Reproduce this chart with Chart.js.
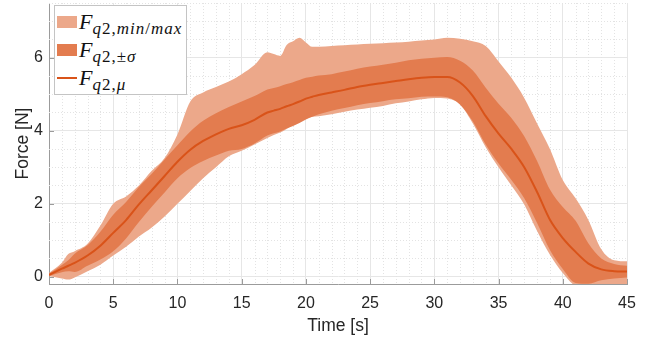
<!DOCTYPE html>
<html>
<head>
<meta charset="utf-8">
<script src="https://cdn.jsdelivr.net/npm/chart.js@4/dist/chart.umd.min.js"></script>
<style>
  body { margin: 0; background: #fff; }
  #wrap { position: relative; width: 662px; height: 343px; }
  #legend {
    position: absolute; left: 54px; top: 5px; width: 131px; height: 88px;
    border: 1px solid #c4c4c4; background: #fff;
    font-family: "Liberation Serif", "Times New Roman", serif;
  }
  #legend .item { position: absolute; left: 2px; height: 26px; display: flex; align-items: center; }
  #legend .sw { width: 20px; margin-right: 2px; }
  #legend .txt { font-size: 22px; color: #111; line-height: 1; white-space: nowrap; }
  #legend sub { font-size: 17px; letter-spacing: 1px; vertical-align: -5px; line-height: 0; }
</style>
</head>
<body>
<div id="wrap">
  <canvas id="force-chart"></canvas>
  <div id="legend"></div>
</div>
<script>
// time stamps [s]
const times = [0, 1, 1.5, 2, 3, 4, 5, 6, 7, 8, 9, 10, 11, 12, 13, 14, 15, 16, 17, 17.5, 18, 18.5, 19, 19.5, 20, 20.5,
  21, 22, 23, 24, 25, 26, 27, 28, 29, 30, 31, 32, 33, 34, 35, 36, 37, 38, 39, 40, 41, 42, 43, 44, 45];
// mean force [N]
const forceMean = [0.05, 0.22, 0.3, 0.38, 0.58, 0.85, 1.2, 1.55, 1.98, 2.37, 2.76, 3.15, 3.48, 3.72, 3.9, 4.05, 4.15, 4.3, 4.5, 4.55, 4.6, 4.67, 4.73, 4.8, 4.88, 4.93,
  4.98, 5.05, 5.12, 5.2, 5.26, 5.31, 5.36, 5.41, 5.45, 5.47, 5.47, 5.32, 4.95, 4.4, 3.92, 3.5, 3.0, 2.32, 1.56, 1.06, 0.68, 0.36, 0.2, 0.15, 0.14];
// standard deviation [N]
const forceStd = [0.03, 0.1, 0.15, 0.25, 0.28, 0.38, 0.5, 0.5, 0.48, 0.45, 0.45, 0.45, 0.5, 0.55, 0.58, 0.6, 0.65, 0.65, 0.63, 0.62, 0.62, 0.61, 0.6, 0.59, 0.57, 0.55,
  0.53, 0.5, 0.5, 0.5, 0.5, 0.5, 0.5, 0.52, 0.52, 0.53, 0.55, 0.6, 0.7, 0.78, 0.82, 0.85, 0.85, 0.85, 0.83, 0.85, 0.85, 0.55, 0.3, 0.2, 0.16];
// envelope over all trials [N]
const forceMax = [0.1, 0.38, 0.62, 0.7, 0.9, 1.4, 2.0, 2.2, 2.5, 2.9, 3.25, 3.9, 4.8, 5.05, 5.2, 5.35, 5.55, 5.8, 6.15, 6.1, 6.05, 6.35, 6.45, 6.55, 6.42, 6.3,
  6.3, 6.32, 6.34, 6.36, 6.38, 6.4, 6.42, 6.44, 6.47, 6.5, 6.55, 6.52, 6.45, 6.32, 5.9, 5.45, 4.9, 4.2, 3.5, 2.65, 2.15, 1.55, 0.75, 0.45, 0.42];
const forceMin = [0.02, -0.05, -0.08, -0.02, 0.15, 0.33, 0.58, 0.82, 1.1, 1.35, 1.65, 2.0, 2.35, 2.7, 3.0, 3.3, 3.45, 3.62, 3.8, 3.88, 3.95, 4.05, 4.15, 4.25, 4.33, 4.38,
  4.4, 4.45, 4.52, 4.58, 4.63, 4.68, 4.75, 4.8, 4.86, 4.9, 4.88, 4.72, 4.2, 3.55, 3.0, 2.5, 1.98, 1.25, 0.6, 0.1, -0.25, -0.3, -0.3, -0.3, -0.3];

const xTicks = [0, 5, 10, 15, 20, 25, 30, 35, 40, 45];
const yTicks = [0, 2, 4, 6];
const xMinorStep = 1;
const yMinorStep = 0.5;

const colLine = "rgb(217, 83, 25)";
const colStd = "rgb(227, 124, 79)";
const colRange = "rgb(236, 168, 138)";
const axisColor = "#9b9b9b";
const textColor = "#262626";
const labelFont = "'Liberation Sans', Arial, sans-serif";

const pts = (vals) => times.map((t, i) => ({ x: t, y: vals[i] }));
const stdHi = forceMean.map((m, i) => m + forceStd[i]);
const stdLo = forceMean.map((m, i) => m - forceStd[i]);

const band = (vals, color, fill) => ({
  data: pts(vals),
  borderWidth: 0,
  borderColor: color,
  backgroundColor: color,
  pointRadius: 0,
  cubicInterpolationMode: "monotone",
  fill: fill,
});

// dotted minor grid and inward tick marks
const axesDecor = {
  id: "axesDecor",
  beforeDatasetsDraw(chart) {
    const { ctx, chartArea, scales } = chart;
    const { x, y } = scales;
    ctx.save();
    ctx.strokeStyle = "#e3e3e3";
    ctx.lineWidth = 1;
    ctx.setLineDash([1, 2]);
    ctx.beginPath();
    for (let v = x.min; v <= x.max; v += xMinorStep) {
      if (xTicks.includes(v)) continue;
      const px = Math.round(x.getPixelForValue(v)) + 0.5;
      ctx.moveTo(px, chartArea.top);
      ctx.lineTo(px, chartArea.bottom);
    }
    for (let v = 0; v <= y.max + 1e-9; v += yMinorStep) {
      if (yTicks.includes(v)) continue;
      const py = Math.round(y.getPixelForValue(v)) + 0.5;
      ctx.moveTo(chartArea.left, py);
      ctx.lineTo(chartArea.right, py);
    }
    ctx.stroke();
    ctx.setLineDash([]);
    ctx.strokeStyle = axisColor;
    ctx.beginPath();
    xTicks.forEach((v) => {
      const px = Math.round(x.getPixelForValue(v)) + 0.5;
      ctx.moveTo(px, chartArea.bottom);
      ctx.lineTo(px, chartArea.bottom - 5);
    });
    yTicks.forEach((v) => {
      const py = Math.round(y.getPixelForValue(v)) + 0.5;
      ctx.moveTo(chartArea.left, py);
      ctx.lineTo(chartArea.left + 5, py);
    });
    ctx.stroke();
    ctx.restore();
  },
};

new Chart(document.querySelector("#force-chart"), {
  type: "line",
  data: {
    datasets: [
      { ...band(forceMean, colLine, false), borderWidth: 2 },
      band(stdHi, colStd, "+1"),
      band(stdLo, colStd, false),
      band(forceMax, colRange, "+1"),
      band(forceMin, colRange, false),
    ],
  },
  options: {
    responsive: true,
    maintainAspectRatio: false,
    animation: false,
    layout: { padding: { left: 0, right: 35, top: 3, bottom: 0 } },
    plugins: { legend: { display: false }, tooltip: { enabled: false } },
    scales: {
      x: {
        type: "linear",
        min: 0,
        max: 45,
        afterBuildTicks: (scale) => { scale.ticks = xTicks.map((v) => ({ value: v })); },
        afterFit: (scale) => { scale.height = 59; },
        ticks: {
          autoSkip: false,
          maxRotation: 0,
          padding: 10,
          color: textColor,
          font: { family: labelFont, size: 16 },
        },
        grid: { drawTicks: false, color: "#e6e6e6" },
        border: { color: axisColor, width: 1 },
        title: {
          display: true,
          text: "Time [s]",
          color: textColor,
          padding: { top: 0, bottom: 6 },
          font: { family: labelFont, size: 17.5 },
        },
      },
      y: {
        min: -0.2,
        max: 7.5,
        afterBuildTicks: (scale) => { scale.ticks = yTicks.map((v) => ({ value: v })); },
        afterFit: (scale) => {
          scale.width = 49;
          scale.paddingTop = 0;
          scale.paddingBottom = 0;
        },
        ticks: {
          autoSkip: false,
          padding: 6,
          color: textColor,
          font: { family: labelFont, size: 16 },
        },
        grid: { drawTicks: false, color: "#e6e6e6" },
        border: { color: axisColor, width: 1 },
        title: {
          display: true,
          text: "Force [N]",
          color: textColor,
          padding: { top: 13, bottom: 0 },
          font: { family: labelFont, size: 17.5 },
        },
      },
    },
  },
  plugins: [axesDecor],
});

// legend with sub-scripted labels
const legendItems = [
  { color: colRange, kind: "patch", name: "<i>F</i><sub><i>q</i>2,<i>min</i>/<i>max</i></sub>" },
  { color: colStd, kind: "patch", name: "<i>F</i><sub><i>q</i>2,±<i>σ</i></sub>" },
  { color: colLine, kind: "line", name: "<i>F</i><sub><i>q</i>2,<i>μ</i></sub>" },
];
const legendDiv = document.querySelector("#legend");
legendItems.forEach((item, i) => {
  const row = document.createElement("div");
  row.className = "item";
  row.style.top = `${3 + i * 28}px`;
  const sw = document.createElement("span");
  sw.className = "sw";
  sw.style.background = item.color;
  sw.style.height = item.kind === "line" ? "2px" : "12px";
  const txt = document.createElement("span");
  txt.className = "txt";
  txt.innerHTML = item.name;
  row.appendChild(sw);
  row.appendChild(txt);
  legendDiv.appendChild(row);
});
</script>
</body>
</html>
